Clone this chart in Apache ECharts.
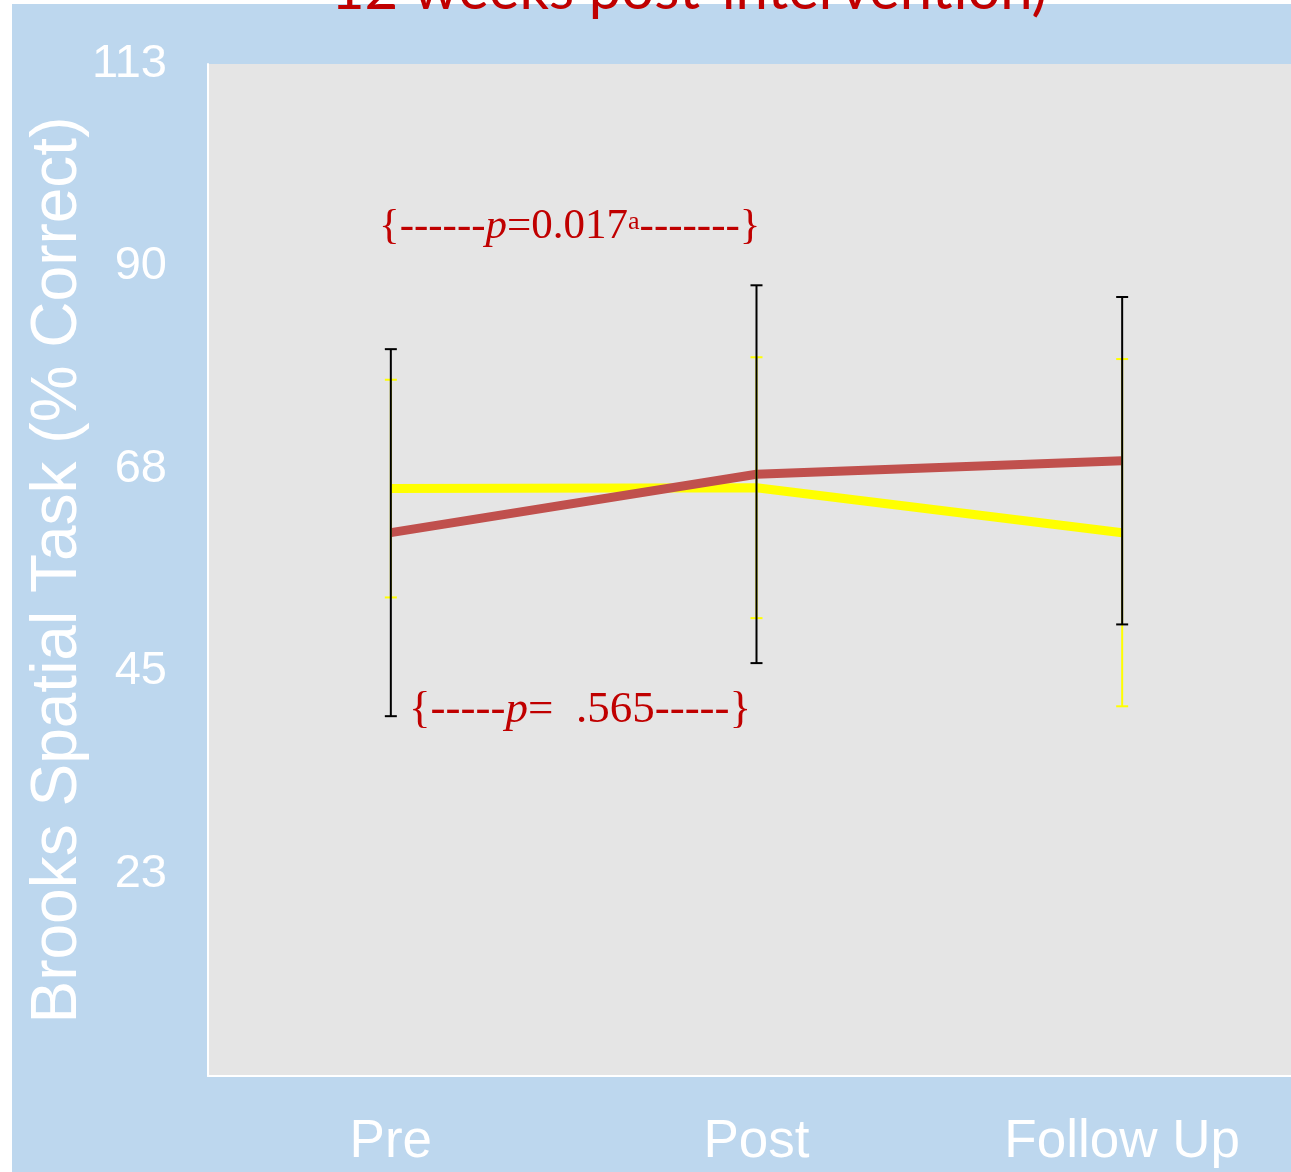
<!DOCTYPE html>
<html>
<head>
<meta charset="utf-8">
<script src="https://cdn.jsdelivr.net/npm/echarts@6/dist/echarts.min.js"></script>
<style>
  html, body { margin: 0; padding: 0; background: #ffffff; overflow: hidden; }
  #chart { width: 1310px; height: 1172px; }
</style>
</head>
<body>
<div id="chart"></div>
<script>
// Assessment time points
const timePoints = ['Pre', 'Post', 'Follow Up'];

// Y-axis tick labels (ticks every 22.5 from 0; the zero label is left blank)
const yTickLabels = ['', '23', '45', '68', '90', '113'];

// Group means and standard deviations (% correct)
const controlMean = [65.3, 65.4, 60.4];
const controlSD = [12.1, 14.5, 19.3];
const trainingMean = [60.4, 66.9, 68.4];
const trainingSD = [20.4, 21.0, 18.2];

// Error bar rows: [time index, low, high]
function errorRows(mean, sd) {
  return mean.map((m, i) => [i, m - sd[i], m + sd[i]]);
}

function errorBarRenderer(color) {
  return function (params, api) {
    const x = api.value(0);
    const lo = api.coord([x, api.value(1)]);
    const hi = api.coord([x, api.value(2)]);
    const half = 6;
    const style = { stroke: color, lineWidth: 2 };
    return {
      type: 'group',
      children: [
        { type: 'line', shape: { x1: lo[0], y1: hi[1], x2: lo[0], y2: lo[1] }, style: style },
        { type: 'line', shape: { x1: lo[0] - half, y1: hi[1], x2: lo[0] + half, y2: hi[1] }, style: style },
        { type: 'line', shape: { x1: lo[0] - half, y1: lo[1], x2: lo[0] + half, y2: lo[1] }, style: style }
      ]
    };
  };
}

const sansFont = '"Liberation Sans", Arial, sans-serif';
const serifFont = '"Liberation Serif", "Times New Roman", serif';
const annotRed = '#C00000';

const chart = echarts.init(document.getElementById('chart'), null, { renderer: 'canvas' });

chart.setOption({
  animation: false,
  backgroundColor: '#BDD7EE',
  grid: {
    left: 208, top: 64, right: 5, bottom: 96,
    show: true, backgroundColor: '#E5E5E5', borderWidth: 0
  },
  xAxis: {
    type: 'category',
    data: timePoints,
    boundaryGap: true,
    axisLine: { show: true, lineStyle: { color: '#FFFFFF', width: 2 } },
    axisTick: { show: false },
    axisLabel: { color: '#FFFFFF', fontSize: 53, fontFamily: sansFont, margin: 40 },
    splitLine: { show: false }
  },
  yAxis: {
    type: 'value',
    min: 0, max: 112.5, interval: 22.5,
    name: 'Brooks Spatial Task (% Correct)',
    nameLocation: 'middle',
    nameGap: 118,
    nameMoveOverlap: false,
    nameTextStyle: { color: '#FFFFFF', fontSize: 64, fontFamily: sansFont },
    axisLine: { show: true, lineStyle: { color: '#FFFFFF', width: 2 } },
    axisTick: { show: false },
    splitLine: { show: false },
    axisLabel: {
      color: '#FFFFFF', fontSize: 47, fontFamily: sansFont, margin: 41,
      padding: [6, 0, 0, 0],
      formatter: (v, i) => yTickLabels[i]
    }
  },
  graphic: [
    { type: 'rect', left: 0, top: 0, shape: { width: 12, height: 1172 }, style: { fill: '#FFFFFF' }, silent: true, z: 1 },
    { type: 'rect', left: 0, top: 0, shape: { width: 1310, height: 4 }, style: { fill: '#FFFFFF' }, silent: true, z: 1 },
    {
      type: 'text', x: 689, y: -10, z: 5, silent: true,
      style: {
        text: '12 weeks post-intervention)',
        fill: '#C00000', font: '58px Lato, "Open Sans", sans-serif',
        align: 'center', verticalAlign: 'middle'
      }
    },
    {
      type: 'text', x: 379, y: 227, z: 5, silent: true,
      style: {
        text: '{------{i|p}=0.017{s|a}-------}',
        fill: annotRed, font: '43px ' + serifFont,
        align: 'left', verticalAlign: 'middle',
        rich: {
          i: { fill: annotRed, fontStyle: 'italic', fontSize: 43, fontFamily: serifFont },
          s: { fill: annotRed, fontSize: 26, fontFamily: serifFont, verticalAlign: 'top', padding: [4, 0, 0, 0] }
        }
      }
    },
    {
      type: 'text', x: 409, y: 710, z: 5, silent: true,
      style: {
        text: '{-----{i|p}=  .565-----}',
        fill: annotRed, font: '45px ' + serifFont,
        align: 'left', verticalAlign: 'middle',
        rich: {
          i: { fill: annotRed, fontStyle: 'italic', fontSize: 45, fontFamily: serifFont }
        }
      }
    }
  ],
  series: [
    {
      name: 'Control',
      type: 'line',
      data: controlMean,
      symbol: 'none',
      lineStyle: { color: '#FFFF00', width: 9, cap: 'butt' },
      z: 2
    },
    {
      name: 'Training',
      type: 'line',
      data: trainingMean,
      symbol: 'none',
      lineStyle: { color: '#C0504D', width: 9, cap: 'butt' },
      z: 3
    },
    {
      name: 'Control SD',
      type: 'custom',
      data: errorRows(controlMean, controlSD),
      encode: { x: 0, y: [1, 2] },
      renderItem: errorBarRenderer('#FFFF00'),
      z: 4
    },
    {
      name: 'Training SD',
      type: 'custom',
      data: errorRows(trainingMean, trainingSD),
      encode: { x: 0, y: [1, 2] },
      renderItem: errorBarRenderer('#000000'),
      z: 5
    }
  ]
});
</script>
</body>
</html>
